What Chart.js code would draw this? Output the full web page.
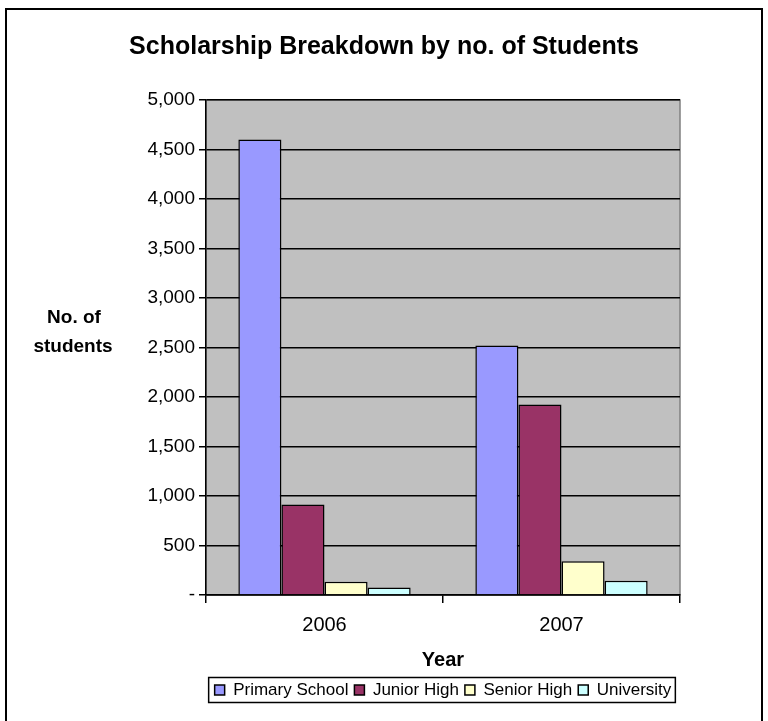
<!DOCTYPE html>
<html>
<head>
<meta charset="utf-8">
<script src="https://cdn.jsdelivr.net/npm/chart.js@4"></script>
<style>
html,body{margin:0;padding:0;background:#fff;}
#wrap{width:768px;height:721px;position:relative;}
</style>
</head>
<body>
<div id="wrap"><canvas id="c" width="768" height="721"></canvas></div>
<script>
const categories = ['2006', '2007'];
const seriesNames = ['Primary School', 'Junior High', 'Senior High', 'University'];
const primarySchool = [4600, 2520];
const juniorHigh = [915, 1925];
const seniorHigh = [135, 340];
const university = [75, 145];
const yTicks = [0, 500, 1000, 1500, 2000, 2500, 3000, 3500, 4000, 4500, 5000];
const colors = ['#9999FF', '#993366', '#FFFFCC', '#CCFFFF'];
const seriesValues = [primarySchool, juniorHigh, seniorHigh, university];

const FONT = "'Liberation Sans', Arial, sans-serif";

const bgPlugin = {
  id: 'bg',
  beforeDraw(chart) {
    const {ctx, chartArea: a} = chart;
    ctx.save();
    ctx.fillStyle = '#fff';
    ctx.fillRect(0, 0, chart.width, chart.height);
    ctx.strokeStyle = '#000';
    ctx.lineWidth = 2;
    ctx.strokeRect(6, 9, 756, 760);
    ctx.fillStyle = '#C0C0C0';
    ctx.fillRect(a.left, a.top, a.right - a.left, a.bottom - a.top);
    ctx.strokeStyle = '#808080';
    ctx.lineWidth = 1.5;
    ctx.strokeRect(a.left, a.top, a.right - a.left, a.bottom - a.top);
    ctx.restore();
  },
  afterDraw(chart) {
    const {ctx} = chart;
    ctx.save();
    ctx.fillStyle = '#000';
    ctx.font = "bold 19px " + FONT;
    ctx.textAlign = 'center';
    ctx.textBaseline = 'middle';
    ctx.fillText('No. of', 74, 318);
    ctx.fillText('students', 73, 347);
    const lg = chart.legend;
    if (lg && lg.legendHitBoxes && lg.legendHitBoxes.length) {
      let l = Infinity, r = -Infinity, t = Infinity, b = -Infinity;
      lg.legendHitBoxes.forEach(h => {
        l = Math.min(l, h.left); r = Math.max(r, h.left + h.width);
        t = Math.min(t, h.top); b = Math.max(b, h.top + h.height);
      });
      ctx.strokeStyle = '#000';
      ctx.lineWidth = 1.5;
      ctx.strokeRect(l - 6, t - 4, r - l + 10, b - t + 8);
    }
    ctx.restore();
  }
};

new Chart(document.getElementById('c'), {
  type: 'bar',
  data: {
    labels: categories,
    datasets: seriesNames.map((n, i) => ({
      label: n,
      data: seriesValues[i],
      backgroundColor: colors[i],
      borderColor: '#000',
      borderWidth: 1.5,
      categoryPercentage: 0.727,
      barPercentage: 1.0
    }))
  },
  options: {
    responsive: false,
    animation: false,
    devicePixelRatio: 1,
    layout: {padding: {left: 10, right: 10, top: 0, bottom: 12.5}},
    plugins: {
      title: {
        display: true,
        text: 'Scholarship Breakdown by no. of Students',
        color: '#000',
        font: {family: FONT, size: 25, weight: 'bold', lineHeight: 1.2},
        padding: {top: 32, bottom: 38}
      },
      legend: {
        position: 'bottom',
        fullSize: false,
        labels: {
          color: '#000',
          font: {family: FONT, size: 17},
          boxWidth: 10,
          boxHeight: 10,
          padding: 6,
          generateLabels(chart) {
            return chart.data.datasets.map((d, i) => ({
              text: d.label, fillStyle: d.backgroundColor, strokeStyle: '#000',
              lineWidth: 1.5, datasetIndex: i, hidden: false
            }));
          }
        }
      },
      tooltip: {enabled: false}
    },
    scales: {
      x: {
        afterFit(scale) { scale.height = 80.5; },
        grid: {display: true, drawOnChartArea: false, offset: true, color: '#000', tickLength: 8, lineWidth: 1.5},
        border: {color: '#000', width: 1.5},
        ticks: {color: '#000', font: {family: FONT, size: 20}, padding: 10},
        title: {display: true, text: 'Year', color: '#000', font: {family: FONT, size: 20, weight: 'bold'}, padding: {top: 4, bottom: 3}}
      },
      y: {
        min: 0, max: 5000,
        afterBuildTicks(scale) { scale.ticks = yTicks.map(v => ({value: v})); },
        afterFit(scale) { scale.width = 196; },
        grid: {color: '#000', lineWidth: 1.5, tickLength: 7},
        border: {color: '#000', width: 1.5},
        ticks: {
          color: '#000', font: {family: FONT, size: 19}, padding: 4,
          callback(v) { return v === 0 ? '-' : v.toLocaleString('en-US'); }
        }
      },
      yR: {
        position: 'right',
        display: true,
        afterFit(scale) { scale.width = 78; },
        grid: {display: false},
        border: {display: false},
        ticks: {display: false}
      }
    }
  },
  plugins: [bgPlugin]
});
</script>
</body>
</html>
